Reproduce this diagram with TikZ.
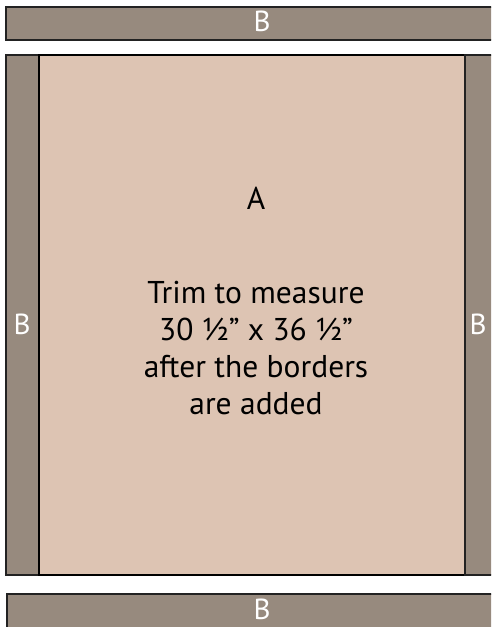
\documentclass[tikz,border=0pt]{standalone}
\usepackage{fontspec}
\setmainfont{PT Sans}
\definecolor{barfill}{HTML}{978A7E}
\definecolor{mainfill}{HTML}{DDC4B3}
\definecolor{edge}{HTML}{222222}
\begin{document}
\begin{tikzpicture}[x=1pt,y=-1pt,
  bar/.style={fill=barfill,draw=edge,line width=1.4pt},
  panel/.style={fill=mainfill,draw=black,line width=1.4pt},
  wlabel/.style={text=white,font=\fontsize{29}{34}\selectfont,inner sep=0pt,anchor=base},
  blabel/.style={text=black,font=\fontsize{31.5}{37}\selectfont,inner sep=0pt,align=center}]
\useasboundingbox (0,0) rectangle (491,627);
\begin{scope}
\clip (0,0) rectangle (491,627);
\draw[bar] (6,7) rectangle (518,40);
\draw[bar] (6,55) rectangle (39,575);
\draw[panel] (39,55) rectangle (465,575);
\draw[bar] (465,55) rectangle (520,575);
\draw[bar] (7,594) rectangle (518,640);
\end{scope}
\node[wlabel] (btop) at (262,31) {B};
\node[wlabel] (bleft) at (22,334) {B};
\node[wlabel] (bright) at (478,334) {B};
\node[wlabel] (bbot) at (262,619) {B};
\node[blabel] (a) at (256,198) {A};
\node[blabel] (txt) at (256,348) {Trim to measure\\30 ½” x 36 ½”\\after the borders\\are added};
\end{tikzpicture}
\end{document}
